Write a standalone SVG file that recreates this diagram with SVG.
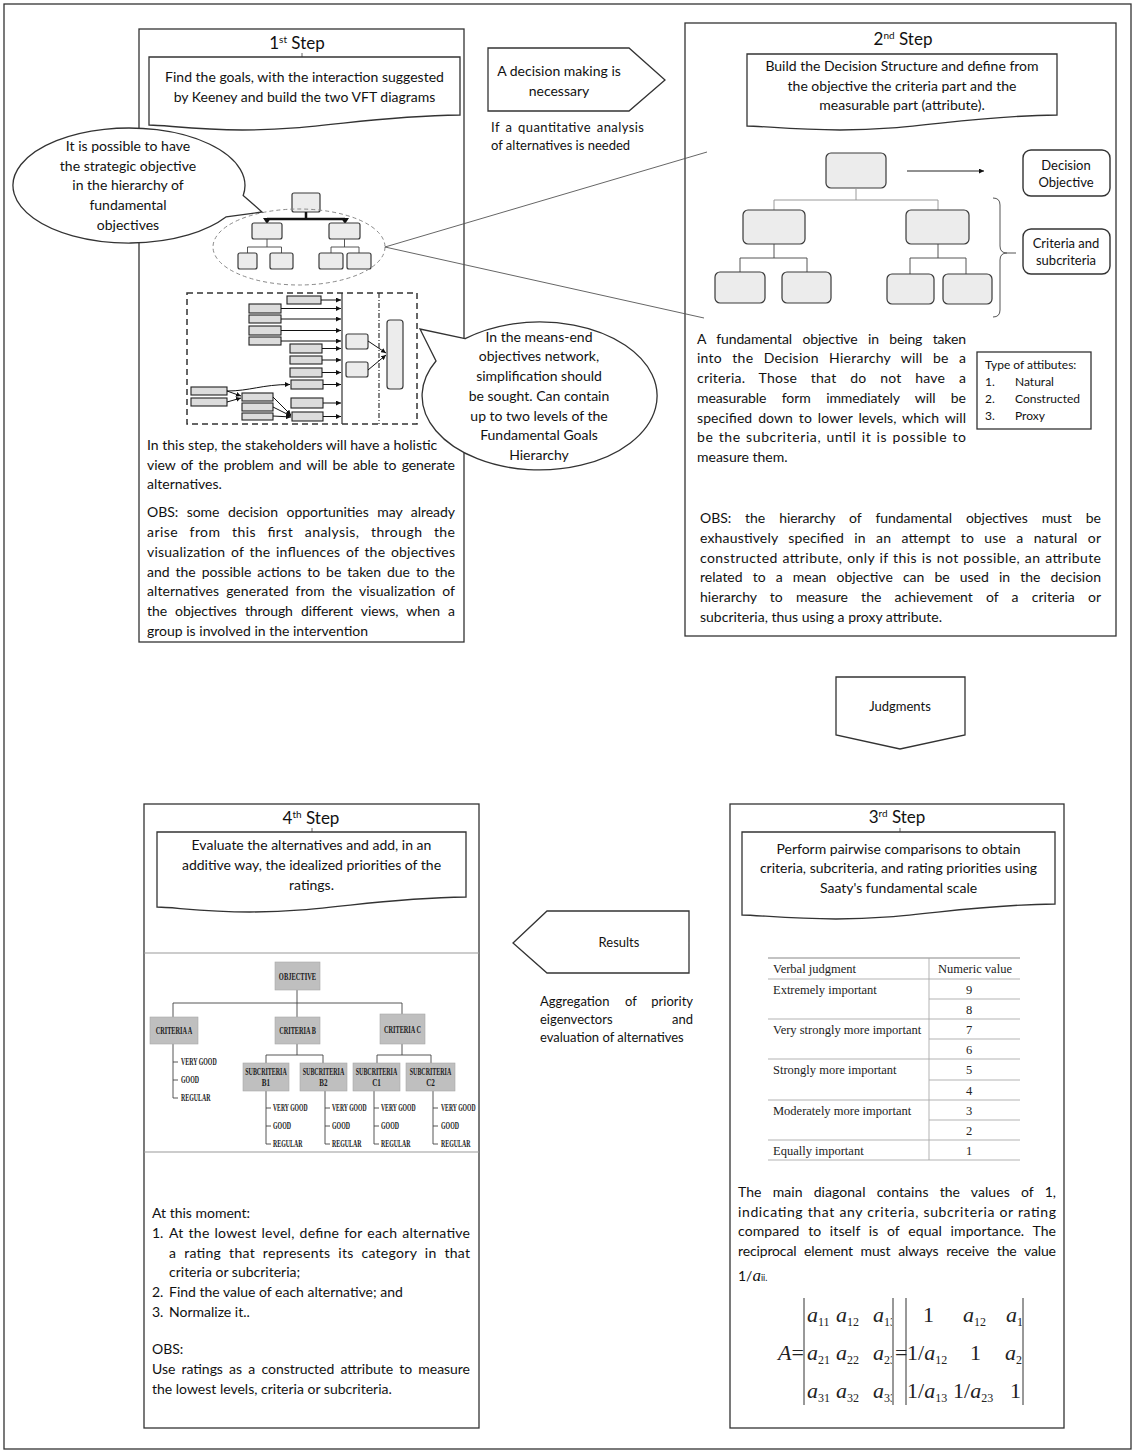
<svg xmlns="http://www.w3.org/2000/svg" width="1135" height="1453" viewBox="0 0 1135 1453">
<defs>
<style>
.t{font-family:Lato,"Liberation Sans",sans-serif;font-size:14px;fill:#111}
.c{text-anchor:middle}
.e{text-anchor:end}
.s13{font-size:13px}
.s12{font-size:12px}
.ttl{font-size:17px}
.box{fill:#fff;stroke:#333;stroke-width:1.3}
.rb{fill:#ececec;stroke:#3a3a3a;stroke-width:1.2}
.nb{fill:#dcdcdc;stroke:#222;stroke-width:1.1}
.gb{fill:#bfbfbf;stroke:#a8a8a8;stroke-width:0.6}
.ln{fill:none;stroke:#444;stroke-width:0.9}
.lg{fill:none;stroke:#9a9a9a;stroke-width:1}
.hb{font-family:"Liberation Serif",serif;font-weight:bold;font-size:9.5px;fill:#1a1a1a}
.tb{font-family:"Liberation Serif",serif;font-size:12.5px;fill:#222}
.mi{font-family:"Liberation Serif",serif;font-style:italic;font-size:22px;fill:#222}
.mu{font-style:normal}
.sb{font-style:normal;font-size:12px}
.tick{stroke:#666;stroke-width:1}
.arr{fill:none;stroke:#111;stroke-width:1;marker-end:url(#ah)}
</style>
<marker id="ah" viewBox="0 0 6 6" refX="6" refY="3" markerWidth="5" markerHeight="5" orient="auto"><path d="M0,0 L6,3 L0,6 Z" fill="#111"/></marker>
<clipPath id="cl1"><rect x="795" y="1290" width="97" height="125"/></clipPath>
<clipPath id="cl2"><rect x="906" y="1290" width="116" height="125"/></clipPath>
</defs>

<rect x="4" y="4" width="1127" height="1445" fill="#fff" stroke="#333" stroke-width="1.3"/>

<g id="step1">
<rect class="box" x="139" y="29" width="325" height="613"/>
<text class="t c ttl" x="297" y="49">1<tspan font-size="10" dy="-6">st</tspan><tspan dy="6"> Step</tspan></text>
<line class="tick" x1="302" y1="53" x2="302" y2="57"/>
<path class="box" d="M149,57 H460 V115 C366.7,116 320,130 242.3,130 C195.6,130 164.5,125 149,125 Z"/>
<text class="t c" x="304.5" y="82">Find the goals, with the interaction suggested</text>
<text class="t c" x="304.5" y="102">by Keeney and build the two VFT diagrams</text>
<g id="vft-hierarchy">
<rect class="rb" x="292" y="193" width="28" height="19" rx="2"/>
<path d="M306,212 V219 M267,219 H345" fill="none" stroke="#111" stroke-width="2.5"/>
<path d="M263,218 L271,218 L267,224 Z M341,218 L349,218 L345,224 Z" fill="#111"/>
<rect class="rb" x="252" y="223" width="30" height="16" rx="2"/>
<rect class="rb" x="329" y="223" width="31" height="16" rx="2"/>
<path class="ln" d="M267,239 V247 M247.5,247 H281.5 M247.5,247 V253 M281.5,247 V253 M344.5,239 V247 M331,247 H359 M331,247 V253 M359,247 V253"/>
<rect class="rb" x="238" y="253" width="19" height="16" rx="2"/>
<rect class="rb" x="270" y="253" width="23" height="16" rx="2"/>
<rect class="rb" x="319" y="253" width="24" height="16" rx="2"/>
<rect class="rb" x="347" y="253" width="24" height="16" rx="2"/>
<ellipse cx="299" cy="247" rx="86" ry="38" fill="none" stroke="#8a8a8a" stroke-width="1" stroke-dasharray="4,3"/>
</g>
<g id="means-end-network">
<rect x="187" y="293" width="230" height="131" fill="none" stroke="#333" stroke-width="1.5" stroke-dasharray="6,4"/>
<line x1="342" y1="293" x2="342" y2="424" stroke="#333" stroke-width="1.2"/>
<line x1="379" y1="293" x2="379" y2="424" stroke="#333" stroke-width="1.2" stroke-dasharray="5,2,1,2"/>
<rect class="nb" x="287" y="296" width="34" height="8"/>
<rect class="nb" x="249" y="304" width="32" height="9"/>
<rect class="nb" x="249" y="315" width="32" height="8"/>
<rect class="nb" x="249" y="326" width="32" height="9"/>
<rect class="nb" x="249" y="337" width="32" height="8"/>
<rect class="nb" x="290" y="344" width="32" height="9"/>
<rect class="nb" x="290" y="356" width="32" height="8"/>
<rect class="nb" x="290" y="368" width="32" height="9"/>
<rect class="nb" x="291" y="380" width="32" height="9"/>
<rect class="nb" x="291" y="398" width="32" height="10"/>
<rect class="nb" x="292" y="412" width="31" height="9"/>
<rect class="nb" x="191" y="387" width="36" height="8"/>
<rect class="nb" x="191" y="398" width="36" height="8"/>
<rect class="nb" x="242" y="393" width="31" height="8"/>
<rect class="nb" x="242" y="403" width="31" height="8"/>
<rect class="nb" x="242" y="413" width="31" height="7"/>
<rect class="rb" x="346" y="334" width="22" height="15" rx="2"/>
<rect class="rb" x="346" y="362" width="22" height="15" rx="2"/>
<rect class="rb" x="387" y="320" width="16" height="69" rx="3"/>
<path class="arr" d="M321,300 H341"/>
<path class="arr" d="M281,308.5 H341"/>
<path class="arr" d="M281,319 H341"/>
<path class="arr" d="M281,330.5 H341"/>
<path class="arr" d="M281,341 H341"/>
<path class="arr" d="M322,348.5 H341"/>
<path class="arr" d="M322,360 H341"/>
<path class="arr" d="M322,372.5 H341"/>
<path class="arr" d="M323,384.5 H341"/>
<path class="arr" d="M323,403 H341"/>
<path class="arr" d="M323,416.5 H341"/>
<path class="arr" d="M227,391 C250,391 262,384.5 290,384.5"/>
<path class="arr" d="M227,391 L241,396"/>
<path class="arr" d="M227,402 L241,398"/>
<path class="arr" d="M273,397 L291,415"/>
<path class="arr" d="M273,407 L291,416"/>
<path class="arr" d="M273,416 L291,417"/>
<path class="arr" d="M368,341 L386,353"/>
<path class="arr" d="M368,370 L386,355"/>
</g>
<text class="t" x="147" y="450">In this step, the stakeholders will have a holistic</text>
<text class="t" x="147" y="470" word-spacing="1.9" textLength="308" lengthAdjust="spacing">view of the problem and will be able to generate</text>
<text class="t" x="147" y="489">alternatives.</text>
<text class="t" x="147" y="517" word-spacing="5" textLength="308" lengthAdjust="spacing">OBS: some decision opportunities may already</text>
<text class="t" x="147" y="537" word-spacing="7.5" textLength="308" lengthAdjust="spacing">arise from this first analysis, through the</text>
<text class="t" x="147" y="557" word-spacing="1.8" textLength="308" lengthAdjust="spacing">visualization of the influences of the objectives</text>
<text class="t" x="147" y="577" word-spacing="2.4" textLength="308" lengthAdjust="spacing">and the possible actions to be taken due to the</text>
<text class="t" x="147" y="596" word-spacing="3.3" textLength="308" lengthAdjust="spacing">alternatives generated from the visualization of</text>
<text class="t" x="147" y="616" word-spacing="4.6" textLength="308" lengthAdjust="spacing">the objectives through different views, when a</text>
<text class="t" x="147" y="636">group is involved in the intervention</text>
</g>

<g id="bubble-strategic">
<path class="box" d="M243.2,195.5 L262,212 L226.3,216.8 A116,57.5 0 1 1 243.2,195.5 Z"/>
<text class="t c" x="128" y="151">It is possible to have</text>
<text class="t c" x="128" y="171">the strategic objective</text>
<text class="t c" x="128" y="190">in the hierarchy of</text>
<text class="t c" x="128" y="210">fundamental</text>
<text class="t c" x="128" y="230">objectives</text>
</g>

<g id="bubble-means-end">
<path class="box" d="M465.1,338.7 L420,329 L436,361 A117.5,74 0 1 0 465.1,338.7 Z"/>
<text class="t c" x="539" y="342">In the means-end</text>
<text class="t c" x="539" y="361">objectives network,</text>
<text class="t c" x="539" y="381">simplification should</text>
<text class="t c" x="539" y="401">be sought. Can contain</text>
<text class="t c" x="539" y="421">up to two levels of the</text>
<text class="t c" x="539" y="440">Fundamental Goals</text>
<text class="t c" x="539" y="460">Hierarchy</text>
</g>

<g id="decision-arrow">
<path class="box" d="M488,48 L629,48 L665,80 L629,111 L488,111 Z"/>
<text class="t c" x="559" y="76">A decision making is</text>
<text class="t c" x="559" y="96">necessary</text>
<text class="t s13" x="491" y="132" word-spacing="2" textLength="153" lengthAdjust="spacing">If a quantitative analysis</text>
<text class="t s13" x="491" y="150">of alternatives is needed</text>
</g>

<g id="step2">
<rect class="box" x="685" y="23" width="431" height="613"/>
<text class="t c ttl" x="903" y="45">2<tspan font-size="10" dy="-6">nd</tspan><tspan dy="6"> Step</tspan></text>
<path class="box" d="M747,54 H1057 V115 C964,116 917.5,130 840,130 C793.5,130 762.5,126 747,126 Z"/>
<text class="t c" x="902" y="71">Build the Decision Structure and define from</text>
<text class="t c" x="902" y="91">the objective the criteria part and the</text>
<text class="t c" x="902" y="110">measurable part (attribute).</text>
<g id="decision-hierarchy">
<rect class="rb" x="826" y="153" width="60" height="35" rx="5"/>
<path class="lg" d="M856,188 V200 M774,200 H938 M774,200 V210 M938,200 V210"/>
<rect class="rb" x="743" y="210" width="62" height="34" rx="5"/>
<rect class="rb" x="906" y="210" width="63" height="34" rx="5"/>
<path class="ln" d="M774,244 V258 M740,258 H807 M740,258 V272 M807,258 V272 M938,244 V258 M910,258 H966 M910,258 V274 M966,258 V274" stroke-width="1.2"/>
<rect class="rb" x="715" y="272" width="50" height="31" rx="5"/>
<rect class="rb" x="782" y="272" width="49" height="31" rx="5"/>
<rect class="rb" x="887" y="274" width="47" height="30" rx="5"/>
<rect class="rb" x="943" y="274" width="49" height="30" rx="5"/>
</g>
<rect x="1023" y="150" width="87" height="46" rx="8" fill="#fff" stroke="#333" stroke-width="1.4"/>
<text class="t c s13" x="1066" y="170">Decision</text>
<text class="t c s13" x="1066" y="187">Objective</text>
<path d="M993,198 Q1000,198 1000,205 V246 Q1000,253 1007,253 Q1000,253 1000,260 V310 Q1000,317 993,317 M1007,253 H1016" fill="none" stroke="#555" stroke-width="1"/>
<rect x="1023" y="229" width="87" height="45" rx="8" fill="#fff" stroke="#333" stroke-width="1.4"/>
<text class="t c s13" x="1066" y="248">Criteria and</text>
<text class="t c s13" x="1066" y="265">subcriteria</text>
<text class="t" x="697" y="344" word-spacing="7" textLength="269" lengthAdjust="spacing">A fundamental objective in being taken</text>
<text class="t" x="697" y="363" word-spacing="6.5" textLength="269" lengthAdjust="spacing">into the Decision Hierarchy will be a</text>
<text class="t" x="697" y="383" word-spacing="10" textLength="269" lengthAdjust="spacing">criteria. Those that do not have a</text>
<text class="t" x="697" y="403" word-spacing="12" textLength="269" lengthAdjust="spacing">measurable form immediately will be</text>
<text class="t" x="697" y="423" word-spacing="2.2" textLength="269" lengthAdjust="spacing">specified down to lower levels, which will</text>
<text class="t" x="697" y="442" word-spacing="1.1" textLength="269" lengthAdjust="spacing">be the subcriteria, until it is possible to</text>
<text class="t" x="697" y="462">measure them.</text>
<g id="attribute-types">
<rect class="box" x="977" y="352" width="114" height="77"/>
<text class="t s12" x="985" y="369">Type of attibutes:</text>
<text class="t s12" x="985" y="386">1.</text><text class="t s12" x="1015" y="386">Natural</text>
<text class="t s12" x="985" y="403">2.</text><text class="t s12" x="1015" y="403">Constructed</text>
<text class="t s12" x="985" y="420">3.</text><text class="t s12" x="1015" y="420">Proxy</text>
</g>
<text class="t" x="700" y="523" word-spacing="10.5" textLength="401" lengthAdjust="spacing">OBS: the hierarchy of fundamental objectives must be</text>
<text class="t" x="700" y="543" word-spacing="6.5" textLength="401" lengthAdjust="spacing">exhaustively specified in an attempt to use a natural or</text>
<text class="t" x="700" y="563" word-spacing="0.7" textLength="401" lengthAdjust="spacing">constructed attribute, only if this is not possible, an attribute</text>
<text class="t" x="700" y="582" word-spacing="6.5" textLength="401" lengthAdjust="spacing">related to a mean objective can be used in the decision</text>
<text class="t" x="700" y="602" word-spacing="9.5" textLength="401" lengthAdjust="spacing">hierarchy to measure the achievement of a criteria or</text>
<text class="t" x="700" y="622">subcriteria, thus using a proxy attribute.</text>
</g>

<g id="connectors">
<line x1="385" y1="247" x2="707" y2="152" stroke="#555" stroke-width="0.9"/>
<line x1="385" y1="247" x2="704" y2="318" stroke="#555" stroke-width="0.9"/>
<line x1="907" y1="171" x2="984" y2="171" stroke="#222" stroke-width="1" marker-end="url(#ah)"/>
</g>

<g id="judgments-arrow">
<path class="box" d="M836,677 L965,677 L965,735 L900,749 L836,735 Z"/>
<text class="t c s13" x="900" y="711">Judgments</text>
</g>

<g id="results-arrow">
<path class="box" d="M547,911 L689,911 L689,973 L547,973 L513,943 Z"/>
<text class="t c s13" x="619" y="947">Results</text>
<text class="t s13" x="540" y="1006">Aggregation</text>
<text class="t s13" x="625" y="1006">of</text>
<text class="t s13 e" x="693" y="1006">priority</text>
<text class="t s13" x="540" y="1024">eigenvectors</text>
<text class="t s13 e" x="693" y="1024">and</text>
<text class="t s13" x="540" y="1042">evaluation of alternatives</text>
</g>

<g id="step3">
<rect class="box" x="730" y="804" width="334" height="624"/>
<text class="t c ttl" x="897" y="823">3<tspan font-size="10" dy="-6">rd</tspan><tspan dy="6"> Step</tspan></text>
<line class="tick" x1="900" y1="828" x2="900" y2="832"/>
<path class="box" d="M742,832 H1055 V904 C961.1,905 914.2,919 835.9,919 C789,919 757.7,915 742,915 Z"/>
<text class="t c" x="898.5" y="854">Perform pairwise comparisons to obtain</text>
<text class="t c" x="898.5" y="873">criteria, subcriteria, and rating priorities using</text>
<text class="t c" x="898.5" y="893">Saaty's fundamental scale</text>
<g id="saaty-table">
<path d="M768,958 H1020" stroke="#888" stroke-width="1.2"/>
<path d="M768,979 H1020 M768,1019 H1020 M768,1059 H1020 M768,1100 H1020 M768,1140 H1020 M768,1160 H1020 M929,999 H1020 M929,1039 H1020 M929,1080 H1020 M929,1120 H1020 M929,958 V1160" stroke="#aaa" stroke-width="0.9" fill="none"/>
<text class="tb" x="773" y="973">Verbal judgment</text>
<text class="tb" x="938" y="973">Numeric value</text>
<text class="tb" x="773" y="994">Extremely important</text>
<text class="tb" x="773" y="1034">Very strongly more important</text>
<text class="tb" x="773" y="1074">Strongly more important</text>
<text class="tb" x="773" y="1115">Moderately more important</text>
<text class="tb" x="773" y="1155">Equally important</text>
<text class="tb c" x="969" y="994">9</text>
<text class="tb c" x="969" y="1014">8</text>
<text class="tb c" x="969" y="1034">7</text>
<text class="tb c" x="969" y="1054">6</text>
<text class="tb c" x="969" y="1074">5</text>
<text class="tb c" x="969" y="1095">4</text>
<text class="tb c" x="969" y="1115">3</text>
<text class="tb c" x="969" y="1135">2</text>
<text class="tb c" x="969" y="1155">1</text>
</g>
<text class="t" x="738" y="1197" word-spacing="7.5" textLength="318" lengthAdjust="spacing">The main diagonal contains the values of 1,</text>
<text class="t" x="738" y="1217" word-spacing="0.3" textLength="318" lengthAdjust="spacing">indicating that any criteria, subcriteria or rating</text>
<text class="t" x="738" y="1236" word-spacing="5" textLength="318" lengthAdjust="spacing">compared to itself is of equal importance. The</text>
<text class="t" x="738" y="1256" word-spacing="4.3" textLength="318" lengthAdjust="spacing">reciprocal element must always receive the value</text>
<text class="t" x="738" y="1281">1/<tspan font-family="Liberation Serif, serif" font-style="italic" font-size="17">a</tspan><tspan font-size="9">ii.</tspan></text>
<g id="matrix">
<path d="M804,1298 V1405 M893,1298 V1405 M906,1298 V1405 M1023,1298 V1405" stroke="#333" stroke-width="1"/>
<text class="mi" x="778" y="1360">A<tspan class="mu">=</tspan></text>
<text class="mi mu" x="895" y="1360">=</text>
<g clip-path="url(#cl1)">
<text class="mi" x="807" y="1322">a<tspan class="sb" dy="4">11</tspan></text>
<text class="mi" x="836" y="1322">a<tspan class="sb" dy="4">12</tspan></text>
<text class="mi" x="873" y="1322">a<tspan class="sb" dy="4">13</tspan></text>
<text class="mi" x="807" y="1360">a<tspan class="sb" dy="4">21</tspan></text>
<text class="mi" x="836" y="1360">a<tspan class="sb" dy="4">22</tspan></text>
<text class="mi" x="873" y="1360">a<tspan class="sb" dy="4">23</tspan></text>
<text class="mi" x="807" y="1398">a<tspan class="sb" dy="4">31</tspan></text>
<text class="mi" x="836" y="1398">a<tspan class="sb" dy="4">32</tspan></text>
<text class="mi" x="873" y="1398">a<tspan class="sb" dy="4">33</tspan></text>
</g>
<g clip-path="url(#cl2)">
<text class="mi mu" x="923" y="1322">1</text>
<text class="mi" x="963" y="1322">a<tspan class="sb" dy="4">12</tspan></text>
<text class="mi" x="1006" y="1322">a<tspan class="sb" dy="4">13</tspan></text>
<text class="mi" x="907" y="1360"><tspan class="mu">1/</tspan>a<tspan class="sb" dy="4">12</tspan></text>
<text class="mi mu" x="970" y="1360">1</text>
<text class="mi" x="1005" y="1360">a<tspan class="sb" dy="4">23</tspan></text>
<text class="mi" x="907" y="1398"><tspan class="mu">1/</tspan>a<tspan class="sb" dy="4">13</tspan></text>
<text class="mi" x="953" y="1398"><tspan class="mu">1/</tspan>a<tspan class="sb" dy="4">23</tspan></text>
<text class="mi mu" x="1010" y="1398">1</text>
</g>
</g>
</g>

<g id="step4">
<rect class="box" x="144" y="804" width="335" height="624"/>
<text class="t c ttl" x="311" y="824">4<tspan font-size="10" dy="-6">th</tspan><tspan dy="6"> Step</tspan></text>
<line class="tick" x1="312" y1="828" x2="312" y2="832"/>
<path class="box" d="M157,832 H466 V897 C373.3,898 327,912 249.7,912 C203.4,912 172.5,907 157,907 Z"/>
<text class="t c" x="311.5" y="850">Evaluate the alternatives and add, in an</text>
<text class="t c" x="311.5" y="870">additive way, the idealized priorities of the</text>
<text class="t c" x="311.5" y="890">ratings.</text>
<path d="M144,953 H479 M144,1152 H479" stroke="#999" stroke-width="1"/>
<g id="ratings-hierarchy">
<path class="ln" d="M297,990 V1017 M173,1003 H402 M173,1003 V1017 M402,1003 V1014 M173,1044 V1098 M173,1062 H178 M173,1080 H178 M173,1098 H178 M297,1044 V1055 M266,1055 H323 M266,1055 V1063 M323,1055 V1063 M402,1044 V1055 M377,1055 H431 M377,1055 V1063 M431,1055 V1063 M266,1091 V1144 M266,1108 H271 M266,1126 H271 M266,1144 H271 M325,1091 V1144 M325,1108 H330 M325,1126 H330 M325,1144 H330 M374,1091 V1144 M374,1108 H379 M374,1126 H379 M374,1144 H379 M433,1091 V1144 M433,1108 H438 M433,1126 H438 M433,1144 H438"/>
<rect class="gb" x="275" y="962" width="45" height="28"/>
<rect class="gb" x="150" y="1017" width="48" height="27"/>
<rect class="gb" x="275" y="1017" width="45" height="27"/>
<rect class="gb" x="380" y="1014" width="45" height="30"/>
<rect class="gb" x="243" y="1063" width="46" height="28"/>
<rect class="gb" x="300" y="1063" width="47" height="28"/>
<rect class="gb" x="353" y="1063" width="47" height="28"/>
<rect class="gb" x="406" y="1063" width="49" height="28"/>
<text class="hb c" transform="translate(297.5,980) scale(0.68,1)">OBJECTIVE</text>
<text class="hb c" transform="translate(174,1034) scale(0.66,1)">CRITERIA A</text>
<text class="hb c" transform="translate(297.5,1034) scale(0.66,1)">CRITERIA B</text>
<text class="hb c" transform="translate(402.5,1033) scale(0.66,1)">CRITERIA C</text>
<text class="hb c" transform="translate(266,1075) scale(0.63,1)">SUBCRITERIA</text>
<text class="hb c" transform="translate(266,1086) scale(0.75,1)">B1</text>
<text class="hb c" transform="translate(323.5,1075) scale(0.63,1)">SUBCRITERIA</text>
<text class="hb c" transform="translate(323.5,1086) scale(0.75,1)">B2</text>
<text class="hb c" transform="translate(376.5,1075) scale(0.63,1)">SUBCRITERIA</text>
<text class="hb c" transform="translate(376.5,1086) scale(0.75,1)">C1</text>
<text class="hb c" transform="translate(430.5,1075) scale(0.63,1)">SUBCRITERIA</text>
<text class="hb c" transform="translate(430.5,1086) scale(0.75,1)">C2</text>
<text class="hb" transform="translate(181,1065) scale(0.62,1)">VERY GOOD</text>
<text class="hb" transform="translate(181,1083) scale(0.62,1)">GOOD</text>
<text class="hb" transform="translate(181,1101) scale(0.62,1)">REGULAR</text>
<text class="hb" transform="translate(273,1111) scale(0.6,1)">VERY GOOD</text>
<text class="hb" transform="translate(273,1129) scale(0.62,1)">GOOD</text>
<text class="hb" transform="translate(273,1147) scale(0.62,1)">REGULAR</text>
<text class="hb" transform="translate(332,1111) scale(0.6,1)">VERY GOOD</text>
<text class="hb" transform="translate(332,1129) scale(0.62,1)">GOOD</text>
<text class="hb" transform="translate(332,1147) scale(0.62,1)">REGULAR</text>
<text class="hb" transform="translate(381,1111) scale(0.6,1)">VERY GOOD</text>
<text class="hb" transform="translate(381,1129) scale(0.62,1)">GOOD</text>
<text class="hb" transform="translate(381,1147) scale(0.62,1)">REGULAR</text>
<text class="hb" transform="translate(441,1111) scale(0.6,1)">VERY GOOD</text>
<text class="hb" transform="translate(441,1129) scale(0.62,1)">GOOD</text>
<text class="hb" transform="translate(441,1147) scale(0.62,1)">REGULAR</text>
</g>
<text class="t" x="152" y="1218">At this moment:</text>
<text class="t" x="152" y="1238">1.</text>
<text class="t" x="169" y="1238" word-spacing="1.1" textLength="301" lengthAdjust="spacing">At the lowest level, define for each alternative</text>
<text class="t" x="169" y="1258" word-spacing="4" textLength="301" lengthAdjust="spacing">a rating that represents its category in that</text>
<text class="t" x="169" y="1277">criteria or subcriteria;</text>
<text class="t" x="152" y="1297">2.</text>
<text class="t" x="169" y="1297">Find the value of each alternative; and</text>
<text class="t" x="152" y="1317">3.</text>
<text class="t" x="169" y="1317">Normalize it..</text>
<text class="t" x="152" y="1354">OBS:</text>
<text class="t" x="152" y="1374" word-spacing="2.7" textLength="318" lengthAdjust="spacing">Use ratings as a constructed attribute to measure</text>
<text class="t" x="152" y="1394">the lowest levels, criteria or subcriteria.</text>
</g>
</svg>
